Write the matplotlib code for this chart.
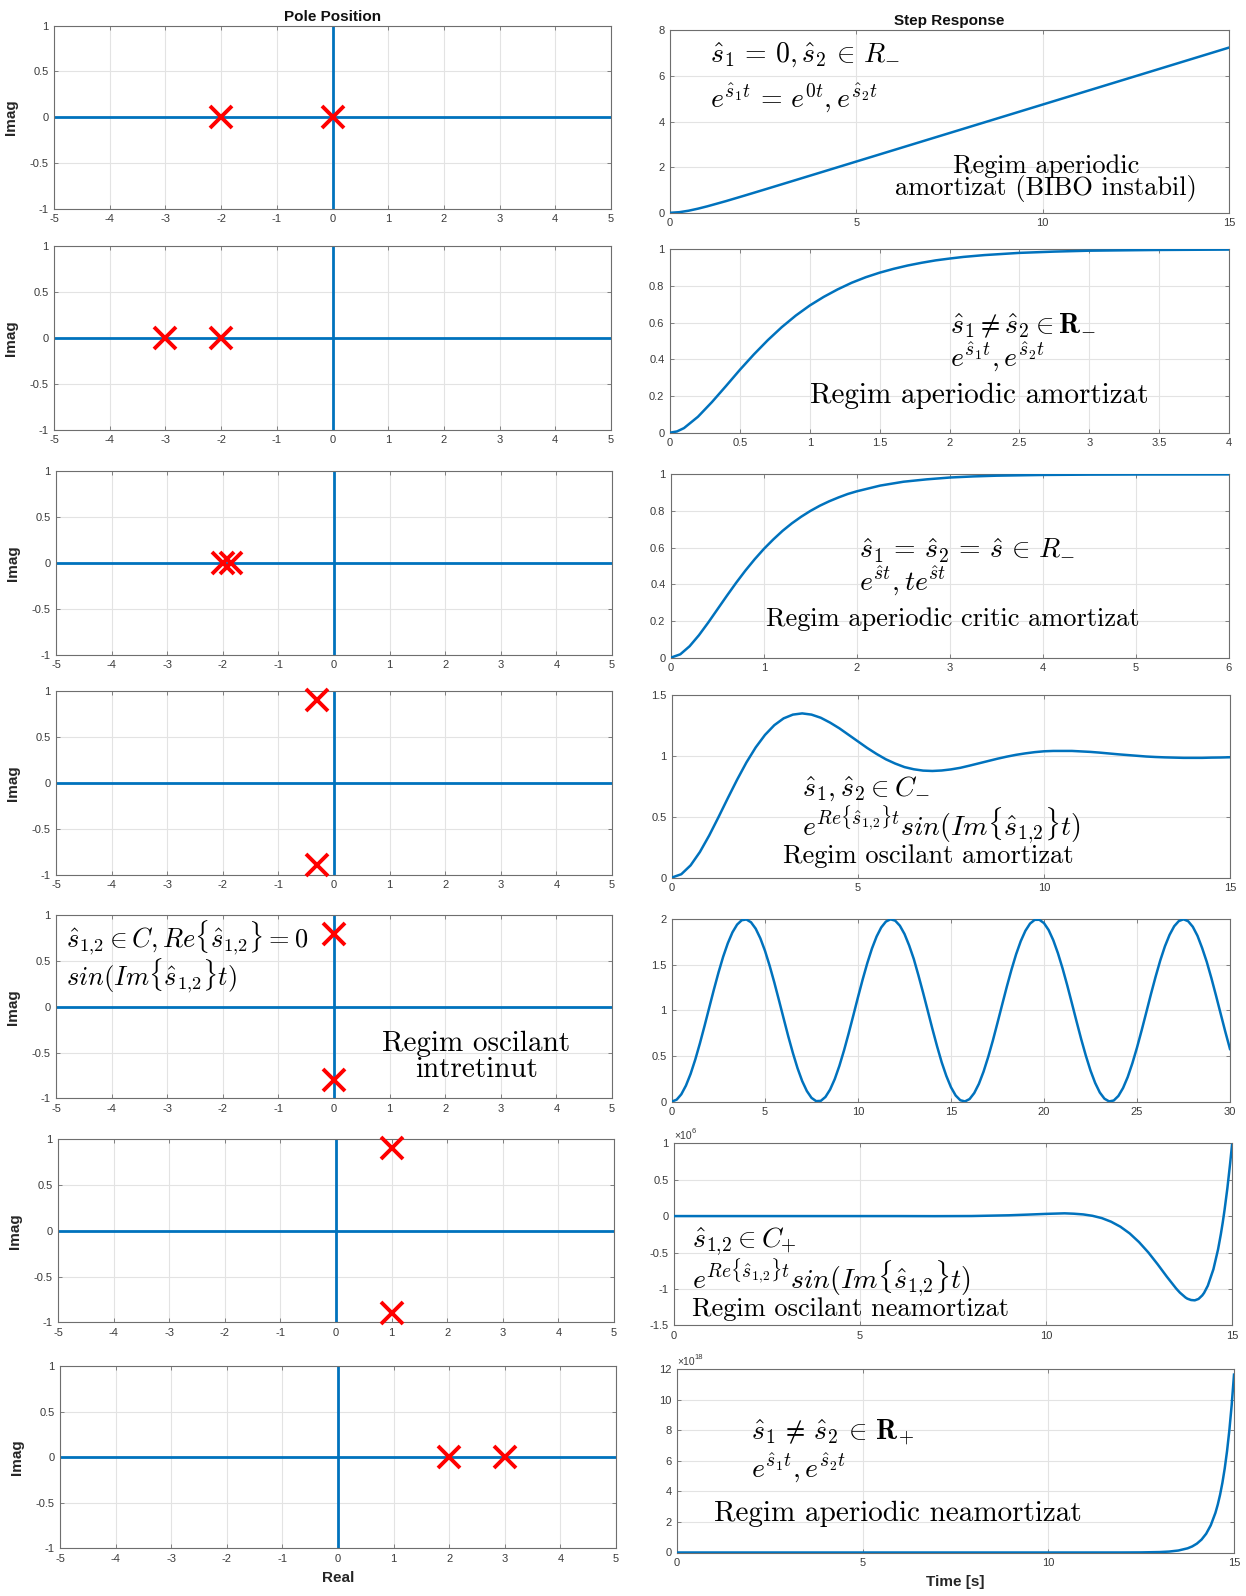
import matplotlib
matplotlib.use("Agg")
import matplotlib.pyplot as plt
from matplotlib.ticker import FixedLocator, FuncFormatter

plt.rcParams['mathtext.fontset'] = 'cm'
plt.rcParams['font.family'] = ['Liberation Sans', 'DejaVu Sans']

W, H = 1246, 1596
BLUE = '#0072BD'
GRID = '#e3e3e3'

# ---- pole locations (real, imag) for each case ----
poles_re = [[-2, 0], [-3, -2], [-2, -1.85], [-0.3, -0.3], [0, 0], [1, 1], [2, 3]]
poles_im = [[0, 0], [0, 0], [0, 0], [0.9, -0.9], [0.8, -0.8], [0.9, -0.9], [0, 0]]

# ---- step responses ----
t1 = [0, 0.25, 0.5, 0.75, 1, 1.5, 2, 2.5, 3, 4, 5, 6, 7, 8, 9, 10, 11, 12, 13, 14, 15]
y1 = [0, 0.027, 0.092, 0.181, 0.284, 0.512, 0.755, 1.002, 1.251, 1.75, 2.25, 2.75,
      3.25, 3.75, 4.25, 4.75, 5.25, 5.75, 6.25, 6.75, 7.25]

t2 = [0, 0.05, 0.1, 0.2, 0.3, 0.4, 0.5, 0.6, 0.7, 0.8, 0.9, 1.0, 1.1, 1.2, 1.3, 1.4,
      1.5, 1.6, 1.7, 1.8, 1.9, 2.0, 2.1, 2.25, 2.5, 2.75, 3.0, 3.5, 4.0]
y2 = [0, 0.007, 0.025, 0.087, 0.167, 0.254, 0.343, 0.427, 0.505, 0.576, 0.639, 0.694,
      0.741, 0.782, 0.818, 0.848, 0.873, 0.894, 0.912, 0.927, 0.940, 0.950, 0.959,
      0.969, 0.981, 0.988, 0.993, 0.997, 0.999]

t3 = [0, 0.1, 0.2, 0.3, 0.4, 0.5, 0.6, 0.7, 0.8, 0.9, 1.0, 1.1, 1.2, 1.3, 1.4, 1.5,
      1.6, 1.7, 1.8, 1.9, 2.0, 2.25, 2.5, 2.75, 3.0, 3.25, 3.5, 4.0, 4.5, 5.0, 6.0]
y3 = [0, 0.018, 0.062, 0.122, 0.191, 0.264, 0.337, 0.408, 0.475, 0.537, 0.594, 0.645,
      0.692, 0.733, 0.769, 0.801, 0.829, 0.853, 0.874, 0.893, 0.908, 0.939, 0.960,
      0.973, 0.983, 0.989, 0.993, 0.997, 0.9988, 0.9995, 1.0]

t4 = [0, 0.25, 0.5, 0.75, 1, 1.25, 1.5, 1.75, 2, 2.25, 2.5, 2.75, 3, 3.25, 3.5, 3.75,
      4, 4.25, 4.5, 4.75, 5, 5.25, 5.5, 5.75, 6, 6.25, 6.5, 6.75, 7, 7.25, 7.5, 7.75,
      8, 8.25, 8.5, 8.75, 9, 9.25, 9.5, 9.75, 10, 10.25, 10.5, 10.75, 11, 11.25, 11.5,
      11.75, 12, 12.25, 12.5, 12.75, 13, 13.25, 13.5, 13.75, 14, 14.25, 14.5, 14.75, 15]
y4 = [0, 0.027, 0.100, 0.210, 0.346, 0.497, 0.653, 0.805, 0.947, 1.071, 1.174, 1.254,
      1.310, 1.341, 1.351, 1.341, 1.315, 1.275, 1.228, 1.174, 1.120, 1.066, 1.017,
      0.973, 0.938, 0.909, 0.891, 0.880, 0.877, 0.881, 0.890, 0.903, 0.921, 0.940,
      0.959, 0.978, 0.995, 1.010, 1.022, 1.032, 1.039, 1.042, 1.042, 1.042, 1.038,
      1.034, 1.028, 1.021, 1.014, 1.008, 1.002, 0.996, 0.992, 0.989, 0.987, 0.985,
      0.985, 0.985, 0.987, 0.988, 0.990]

t5 = [i * 0.25 for i in range(121)]
y5 = [0, 0.020, 0.079, 0.175, 0.303, 0.460, 0.638, 0.830, 1.029, 1.227, 1.416, 1.589,
      1.737, 1.857, 1.942, 1.990, 1.998, 1.967, 1.897, 1.791, 1.654, 1.490, 1.307,
      1.112, 0.913, 0.716, 0.532, 0.365, 0.224, 0.115, 0.040, 0.004, 0.007, 0.050,
      0.131, 0.246, 0.392, 0.562, 0.749, 0.946, 1.146, 1.339, 1.519, 1.679, 1.811,
      1.911, 1.975, 2.000, 1.985, 1.930, 1.839, 1.713, 1.564, 1.384, 1.194, 0.996,
      0.797, 0.607, 0.430, 0.280, 0.156, 0.066, 0.014, 0.001, 0.027, 0.093, 0.194,
      0.328, 0.489, 0.669, 0.864, 1.063, 1.260, 1.446, 1.616, 1.760, 1.874, 1.953,
      1.994, 1.995, 1.958, 1.882, 1.770, 1.627, 1.460, 1.275, 1.078, 0.879, 0.684,
      0.503, 0.340, 0.204, 0.099, 0.031, 0.001, 0.011, 0.061, 0.148, 0.268, 0.419,
      0.592, 0.781, 0.979, 1.179, 1.370, 1.548, 1.703, 1.829, 1.924, 1.981, 2.000,
      1.979, 1.918, 1.820, 1.686, 1.533, 1.354, 1.161, 0.962, 0.764, 0.576]

# values in units of 1e6
t6 = [0, 1, 2, 3, 4, 5, 6, 7, 8, 9, 9.5, 10, 10.5, 10.75, 11, 11.25, 11.5, 11.75, 12,
      12.25, 12.5, 12.75, 13, 13.25, 13.5, 13.6, 13.75, 13.8, 13.9, 14, 14.1, 14.2,
      14.25, 14.35, 14.5, 14.625, 14.7, 14.75, 14.8, 14.875, 14.95, 15]
y6 = [0, 0, 0, 0, 0, 0, 0, -0.001, 0.0008, 0.0107, 0.0200, 0.0302, 0.0378, 0.0324,
      0.0228, 0.0037, -0.0277, -0.0772, -0.1458, -0.2382, -0.3568, -0.4984, -0.6607,
      -0.8327, -0.9947, -1.0505, -1.1171, -1.1334, -1.1518, -1.156, -1.1369, -1.0888,
      -1.0535, -0.9554, -0.7300, -0.4578, -0.2488, -0.0912, 0.0843, 0.380, 0.7235,
      0.975]

# values in units of 1e18
t7 = [0, 2, 4, 6, 8, 10, 11, 12, 12.5, 13, 13.25, 13.5, 13.75, 13.875, 14, 14.125,
      14.25, 14.375, 14.5, 14.5625, 14.625, 14.6875, 14.75, 14.8125, 14.875, 14.9375, 15]
y7 = [0, 0, 0, 0, 0, 0, 0, 0.0014, 0.0065, 0.0289, 0.0611, 0.1294, 0.274, 0.398,
      0.580, 0.843, 1.227, 1.786, 2.598, 3.134, 3.781, 4.560, 5.501, 6.635, 8.003,
      9.654, 11.645]

step_t = [t1, t2, t3, t4, t5, t6, t7]
step_y = [y1, y2, y3, y4, y5, y6, y7]

step_xlim = [(0, 15), (0, 4), (0, 6), (0, 15), (0, 30), (0, 15), (0, 15)]
step_xticks = [[0, 5, 10, 15], [0, 0.5, 1, 1.5, 2, 2.5, 3, 3.5, 4], [0, 1, 2, 3, 4, 5, 6],
               [0, 5, 10, 15], [0, 5, 10, 15, 20, 25, 30], [0, 5, 10, 15], [0, 5, 10, 15]]
step_ylim = [(0, 8), (0, 1), (0, 1), (0, 1.5), (0, 2), (-1.5, 1), (0, 12)]
step_yticks = [[0, 2, 4, 6, 8], [0, 0.2, 0.4, 0.6, 0.8, 1], [0, 0.2, 0.4, 0.6, 0.8, 1],
               [0, 0.5, 1, 1.5], [0, 0.5, 1, 1.5, 2], [-1.5, -1, -0.5, 0, 0.5, 1],
               [0, 2, 4, 6, 8, 10, 12]]
step_exponent = [None, None, None, None, None, '6', '18']

pz_xticks = [-5, -4, -3, -2, -1, 0, 1, 2, 3, 4, 5]
pz_yticks = [-1, -0.5, 0, 0.5, 1]

# axes boxes in pixels: (left, top, right, bottom)
boxes_left = [(54, 25.5, 611, 208.7), (54, 246.4, 611, 429.6), (56, 471.3, 612, 654.6),
              (56, 691.2, 612, 874.5), (56, 915.2, 612, 1098.4), (58, 1139.1, 614, 1322.4),
              (60, 1366.2, 616, 1548.4)]
boxes_right = [(670, 30.5, 1229, 212.8), (670, 249.4, 1229, 432.7), (671, 474.4, 1229, 657.6),
               (672, 695.3, 1230, 877.5), (672, 919.3, 1230, 1101.5), (674, 1143.2, 1232, 1325.4),
               (677, 1369.2, 1234, 1552.5)]

fig = plt.figure(figsize=(W / 100, H / 100), dpi=100)


def px_axes(box):
    l, t, r, b = box
    return fig.add_axes([l / W, 1 - b / H, (r - l) / W, (b - t) / H])


def fmt(v, _pos=None):
    return '%g' % v


def style(ax, xlim, ylim, xt, yt):
    ax.set_xlim(*xlim)
    ax.set_ylim(*ylim)
    ax.xaxis.set_major_locator(FixedLocator(xt))
    ax.yaxis.set_major_locator(FixedLocator(yt))
    ax.xaxis.set_major_formatter(FuncFormatter(fmt))
    ax.yaxis.set_major_formatter(FuncFormatter(fmt))
    ax.grid(True, color=GRID, lw=0.8)
    ax.set_axisbelow(True)
    for s in ax.spines.values():
        s.set_color('#6e6e6e')
        s.set_linewidth(0.8)
    ax.tick_params(direction='in', length=3, width=0.6, color='#6e6e6e',
                   top=True, right=True, labelsize=8, labelcolor='#3a3a3a', pad=4)


# ---- pole plots ----
left_axes = []
for i in range(7):
    ax = px_axes(boxes_left[i])
    style(ax, (-5, 5), (-1, 1), pz_xticks, pz_yticks)
    ax.axhline(0, color=BLUE, lw=2.0, zorder=2)
    ax.axvline(0, color=BLUE, lw=2.0, zorder=2)
    ax.plot(poles_re[i], poles_im[i], 'x', color='#ff0000', ms=16, mew=2.8,
            zorder=3, clip_on=False)
    ax.set_ylabel('Imag', fontsize=11, fontweight='bold', color='#262626', labelpad=8)
    left_axes.append(ax)

# ---- step responses ----
right_axes = []
for i in range(7):
    ax = px_axes(boxes_right[i])
    style(ax, step_xlim[i], step_ylim[i], step_xticks[i], step_yticks[i])
    ax.plot(step_t[i], step_y[i], color=BLUE, lw=1.8, zorder=3,
            solid_joinstyle='round')
    if step_exponent[i]:
        ax.text(0.0, 1.012, '\u00d710', transform=ax.transAxes, fontsize=7.5,
                color='#3a3a3a', ha='left', va='bottom')
        ax.text(0.032, 1.045, step_exponent[i], transform=ax.transAxes, fontsize=5.5,
                color='#3a3a3a', ha='left', va='bottom')
    right_axes.append(ax)

left_axes[0].set_title('Pole Position', fontsize=11, fontweight='bold', color='#111111', pad=3)
right_axes[0].set_title('Step Response', fontsize=11, fontweight='bold', color='#111111', pad=4)
left_axes[6].set_xlabel('Real', fontsize=11, fontweight='bold', color='#262626', labelpad=5)
right_axes[6].set_xlabel('Time [s]', fontsize=11, fontweight='bold', color='#262626', labelpad=5)

RM = dict(fontfamily='cmr10', color='black')
S12 = r'\hat{s}_{1{,}2}'

# annotations
a = right_axes[0]
a.text(1.07, 6.65, r'$\hat{s}_1 \,=\, 0, \hat{s}_2 \,\in\, R_{-}$', fontsize=20, va='baseline')
a.text(1.07, 4.6, r'$e^{\hat{s}_1 t} \,=\, e^{0t}, e^{\hat{s}_2 t}$', fontsize=20, va='baseline')
a.text(10.1, 1.74, 'Regim aperiodic', fontsize=19, ha='center', va='baseline', **RM)
a.text(10.1, 0.76, 'amortizat (BIBO instabil)', fontsize=19, ha='center', va='baseline', **RM)

a = right_axes[1]
a.text(2.0, 0.544, r'$\hat{s}_1 \neq \hat{s}_2 \in \mathbf{R}_{-}$', fontsize=20, va='baseline')
a.text(2.0, 0.36, r'$e^{\hat{s}_1 t}, e^{\hat{s}_2 t}$', fontsize=20, va='baseline')
a.text(1.0, 0.16, 'Regim aperiodic amortizat', fontsize=21, va='baseline', **RM)

a = right_axes[2]
a.text(2.02, 0.544, r'$\hat{s}_1 \,=\, \hat{s}_2 \,=\, \hat{s} \,\in\, R_{-}$', fontsize=20,
       va='baseline')
a.text(2.02, 0.367, r'$e^{\hat{s}t}, te^{\hat{s}t}$', fontsize=20, va='baseline')
a.text(1.02, 0.172, 'Regim aperiodic critic amortizat', fontsize=19, va='baseline', **RM)

a = right_axes[3]
a.text(3.5, 0.67, r'$\hat{s}_1, \hat{s}_2 \in C_{-}$', fontsize=20, va='baseline')
a.text(3.5, 0.35, r'$e^{Re\{' + S12 + r'\}t} sin(Im\{' + S12 + r'\}t)$', fontsize=20,
       va='baseline')
a.text(2.99, 0.117, 'Regim oscilant amortizat', fontsize=19, va='baseline', **RM)

a = left_axes[4]
a.text(-4.82, 0.656, r'$' + S12 + r' \in C, Re\{' + S12 + r'\} = 0$', fontsize=19,
       va='baseline')
a.text(-4.82, 0.233, r'$sin(Im\{' + S12 + r'\}t)$', fontsize=19, va='baseline')
a.text(2.56, -0.478, 'Regim oscilant', fontsize=21, ha='center', va='baseline', **RM)
a.text(2.56, -0.767, 'intretinut', fontsize=21, ha='center', va='baseline', **RM)

a = right_axes[5]
a.text(0.49, -0.425, r'$' + S12 + r' \in C_{+}$', fontsize=20, va='baseline')
a.text(0.49, -0.997, r'$e^{Re\{' + S12 + r'\}t}sin(Im\{' + S12 + r'\}t)$', fontsize=20,
       va='baseline')
a.text(0.49, -1.37, 'Regim oscilant neamortizat', fontsize=19, va='baseline', **RM)

a = right_axes[6]
a.text(2.0, 7.4, r'$\hat{s}_1 \,\neq\, \hat{s}_2 \,\in\, \mathbf{R}_{+}$', fontsize=20,
       va='baseline')
a.text(2.0, 4.87, r'$e^{\hat{s}_1 t}, e^{\hat{s}_2 t}$', fontsize=20, va='baseline')
a.text(0.99, 2.07, 'Regim aperiodic neamortizat', fontsize=21, va='baseline', **RM)

fig.savefig('out.png', dpi=100, facecolor='white')
